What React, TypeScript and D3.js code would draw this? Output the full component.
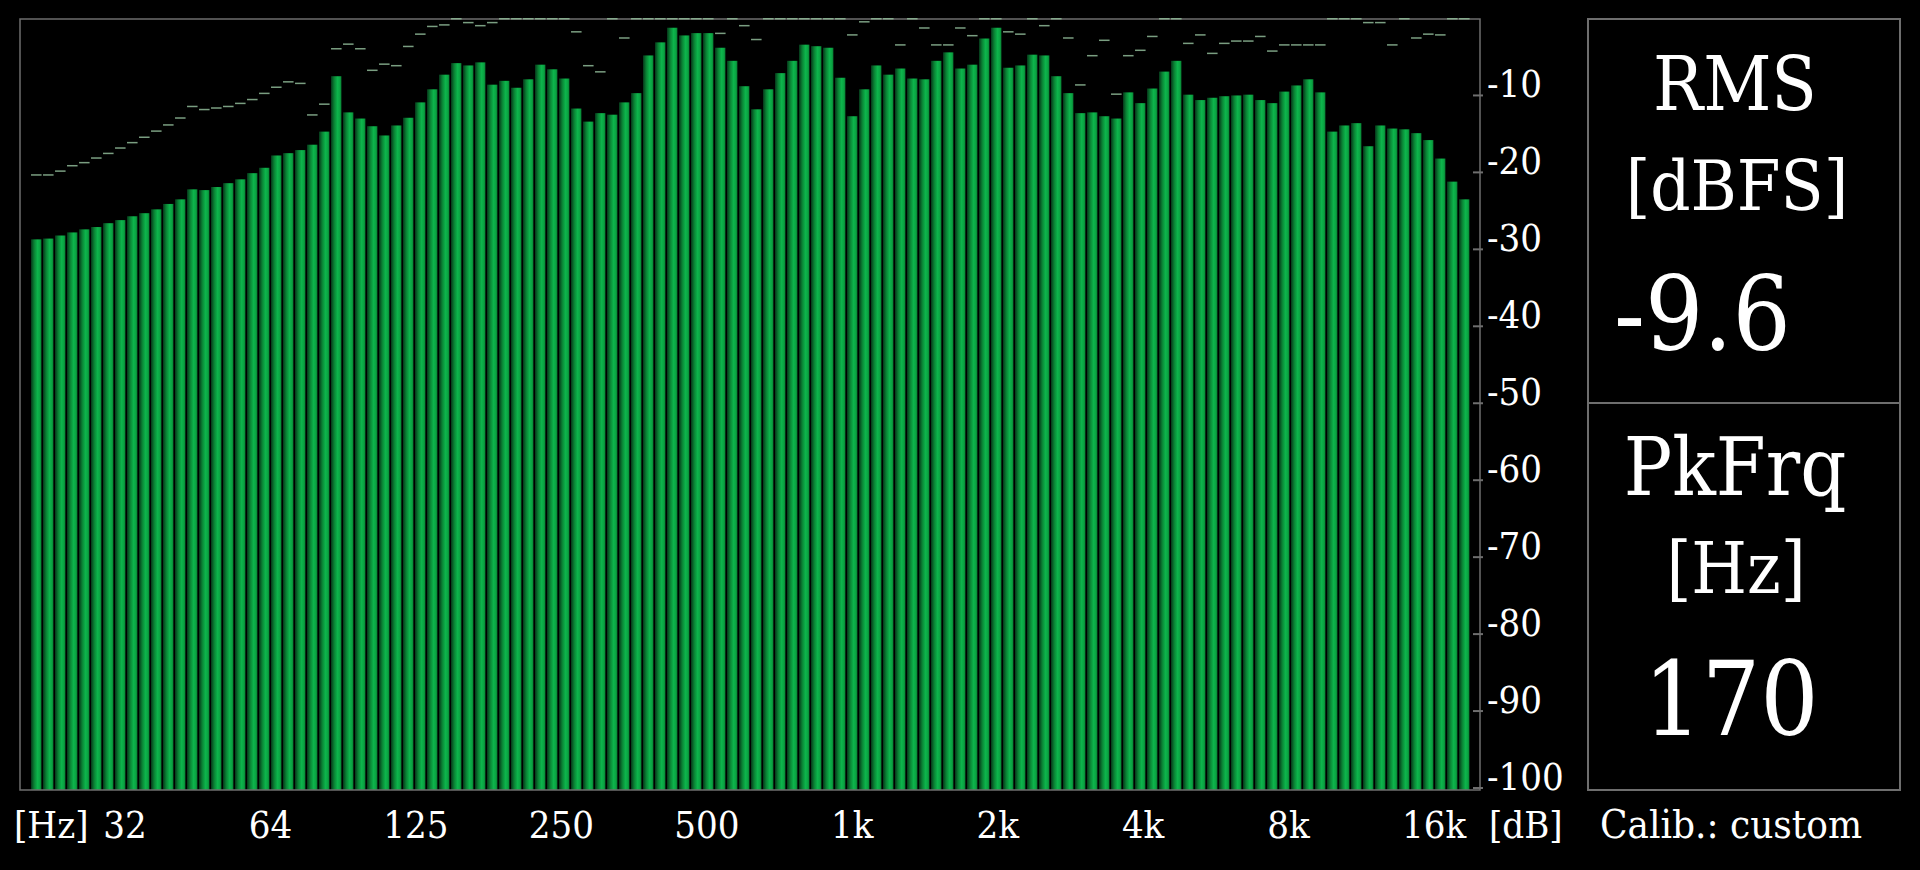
import React from 'react'
import * as d3 from 'd3';

// 1/12-octave band levels in dB, read left to right
const levels: number[] = [
  -28.7, -28.6, -28.2, -27.8, -27.4, -27.1, -26.6, -26.2, -25.7, -25.3,
  -24.8, -24.1, -23.5, -22.2, -22.3, -21.9, -21.4, -20.9, -20.1, -19.4,
  -17.8, -17.5, -17.1, -16.4, -14.7, -7.5, -12.2, -13.0, -14.0, -15.2,
  -13.9, -12.9, -10.9, -9.2, -7.3, -5.8, -6.1, -5.7, -8.6, -8.1,
  -9.0, -7.9, -6.0, -6.6, -7.8, -11.7, -13.4, -12.3, -12.5, -10.9,
  -9.7, -4.8, -3.1, -1.2, -2.2, -1.9, -1.9, -3.8, -5.5, -8.8,
  -11.8, -9.2, -7.1, -5.5, -3.4, -3.6, -3.8, -7.7, -12.7, -9.2,
  -6.1, -7.3, -6.5, -7.8, -7.9, -5.5, -4.4, -6.5, -6.0, -2.6,
  -1.2, -6.4, -6.1, -4.7, -4.8, -7.5, -9.7, -12.3, -12.2, -12.7,
  -13.0, -9.6, -11.0, -9.1, -6.9, -5.5, -9.9, -10.6, -10.3, -10.1,
  -10.0, -9.9, -10.6, -11.0, -9.5, -8.7, -7.9, -9.6, -14.7, -13.9,
  -13.6, -16.6, -13.9, -14.3, -14.4, -14.9, -15.8, -18.2, -21.2, -23.5,
];

// peak hold markers per band
const peaks: number[] = [
  -20.3, -20.3, -19.8, -19.1, -18.7, -18.1, -17.5, -16.8, -16.1, -15.4,
  -14.6, -13.8, -12.9, -11.4, -11.8, -11.6, -11.4, -11.0, -10.5, -9.7,
  -8.9, -8.2, -8.4, -12.5, -11.1, -3.9, -3.3, -3.9, -6.7, -5.9,
  -6.1, -3.6, -2.0, -1.0, -0.8, 0, -0.5, -0.9, -0.5, 0,
  0, 0, 0, 0, 0, -1.7, -6.1, -6.9, 0, -2.5,
  0, 0, 0, 0, 0, 0, 0, -1.9, 0, -0.9,
  -2.7, 0, 0, 0, 0, 0, 0, 0, -2.1, -0.4,
  0, 0, -3.4, 0, -1.2, -3.4, -3.4, -1.2, -2.2, 0,
  0, -1.7, -2.0, 0, -0.9, 0, -2.5, -8.6, -4.8, -2.8,
  -9.8, -4.8, -4.1, -2.3, 0, 0, -3.2, -2.1, -4.5, -3.2,
  -2.9, -2.9, -2.3, -4.2, -3.4, -3.4, -3.4, -3.4, 0, 0,
  0, -0.5, -0.5, -3.4, 0, -2.5, -2.0, -2.1, 0, 0,
];

const freqLabels: string[] = ['32', '64', '125', '250', '500', '1k', '2k', '4k', '8k', '16k'];
const dbTicks: number[] = [-10, -20, -30, -40, -50, -60, -70, -80, -90, -100];

const rmsValue = '-9.6';
const peakFreq = '170';
const calibration = 'custom';

const FONT = "'DejaVu Serif', serif";

const App: React.FC = () => {
  const width = 1920;
  const height = 870;
  const frame = { left: 20, top: 19, right: 1480, bottom: 790 };

  const x = d3.scaleBand<number>()
    .domain(levels.map((_, i) => i))
    .range([30.3, 1470.3])
    .paddingInner(0.12)
    .paddingOuter(0.06);

  const y = d3.scaleLinear()
    .domain([0, -100])
    .range([18.5, 788]);

  const labelX = d3.scalePoint<string>()
    .domain(freqLabels)
    .range([125, 1434]);

  const gray = '#6e6e6e';
  const cond = { fontStretch: 'condensed' } as React.CSSProperties;

  return (
    <div style={{ position: 'fixed', left: 0, top: 0, width, height, background: '#000' }}>
      <svg width={width} height={height} style={{ display: 'block' }}>
        <defs>
          <linearGradient id='barFill' x1='0' x2='1' y1='0' y2='0'>
            <stop offset='0' stopColor='#05381a' />
            <stop offset='0.3' stopColor='#0a8234' />
            <stop offset='0.62' stopColor='#0db54c' />
            <stop offset='0.88' stopColor='#0aa040' />
            <stop offset='1' stopColor='#064d20' />
          </linearGradient>
        </defs>
        <rect width={width} height={height} fill='#000' />

        {/* bars */}
        {levels.map((v, i) => (
          <rect
            key={'b' + i}
            x={x(i)}
            y={y(v)}
            width={x.bandwidth()}
            height={frame.bottom - y(v)}
            fill='url(#barFill)'
          />
        ))}

        {/* plot frame */}
        <rect
          x={frame.left}
          y={frame.top}
          width={frame.right - frame.left}
          height={frame.bottom - frame.top}
          fill='none'
          stroke={gray}
          strokeWidth={1.5}
        />

        {/* peak hold */}
        {peaks.map((p, i) => (
          <rect
            key={'p' + i}
            x={x(i)}
            y={y(p) - 0.5}
            width={x.bandwidth()}
            height={1.5}
            fill='#8fba98'
            opacity={0.85}
          />
        ))}

        {/* dB axis */}
        {dbTicks.map(t => (
          <g key={'t' + t}>
            <line x1={1473} x2={1483} y1={y(t)} y2={y(t)} stroke={gray} strokeWidth={2} />
            <text x={1487} y={y(t) + 2} fill='#fff' fontFamily={FONT} fontSize={38} style={cond}>
              {t}
            </text>
          </g>
        ))}

        {/* frequency axis */}
        <text x={14} y={838} fill='#fff' fontFamily={FONT} fontSize={38} style={cond}>[Hz]</text>
        {freqLabels.map(l => (
          <text
            key={'f' + l}
            x={labelX(l)}
            y={838}
            fill='#fff'
            fontFamily={FONT}
            fontSize={38}
            textAnchor='middle'
            style={cond}
          >
            {l}
          </text>
        ))}
        <text x={1489} y={838} fill='#fff' fontFamily={FONT} fontSize={38} style={cond}>[dB]</text>

        {/* readout panels */}
        <rect x={1588} y={19} width={312} height={771} fill='none' stroke={gray} strokeWidth={2} />
        <line x1={1588} x2={1900} y1={403} y2={403} stroke={gray} strokeWidth={2} />

        <text x={1735} y={110} fill='#fff' fontFamily={FONT} fontSize={74} textAnchor='middle' style={cond}>RMS</text>
        <text x={1737} y={210} fill='#fff' fontFamily={FONT} fontSize={70} textAnchor='middle' style={cond}>[dBFS]</text>
        <text x={1614} y={350} fill='#fff' fontFamily={FONT} fontSize={102} style={cond}>{rmsValue}</text>

        <text x={1735} y={495} fill='#fff' fontFamily={FONT} fontSize={80} textAnchor='middle' style={cond}>PkFrq</text>
        <text x={1736} y={593} fill='#fff' fontFamily={FONT} fontSize={71} textAnchor='middle' style={cond}>[Hz]</text>
        <text x={1731} y={735} fill='#fff' fontFamily={FONT} fontSize={102} textAnchor='middle' style={cond}>{peakFreq}</text>

        <text x={1600} y={838} fill='#fff' fontFamily={FONT} fontSize={40} style={cond}>
          {'Calib.: ' + calibration}
        </text>
      </svg>
    </div>
  )
}

export default App
